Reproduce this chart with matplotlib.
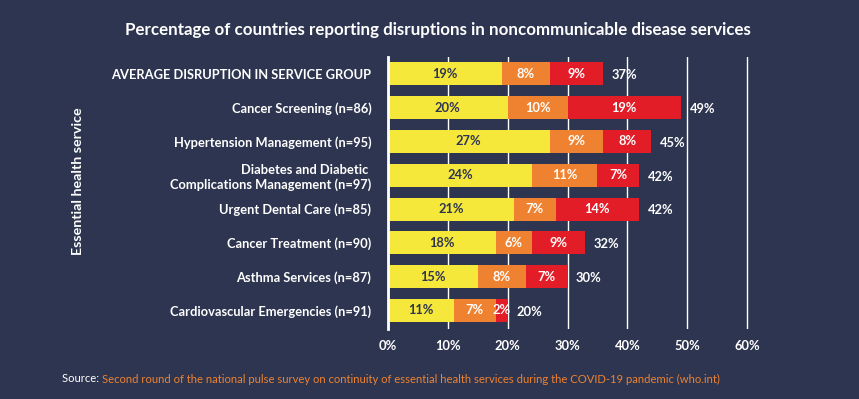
import matplotlib
matplotlib.use("Agg")
import matplotlib.pyplot as plt
import numpy as np

categories = [
    "AVERAGE DISRUPTION IN SERVICE GROUP",
    "Cancer Screening (n=86)",
    "Hypertension Management (n=95)",
    "Diabetes and Diabetic \nComplications Management (n=97)",
    "Urgent Dental Care (n=85)",
    "Cancer Treatment (n=90)",
    "Asthma Services (n=87)",
    "Cardiovascular Emergencies (n=91)",
]
seg1 = [19, 20, 27, 24, 21, 18, 15, 11]
seg2 = [8, 10, 9, 11, 7, 6, 8, 7]
seg3 = [9, 19, 8, 7, 14, 9, 7, 2]
totals = [37, 49, 45, 42, 42, 32, 30, 20]
xticks = [0, 10, 20, 30, 40, 50, 60]

BG = "#2e3550"
YEL = "#f6e83a"
ORA = "#ef8230"
RED = "#e31d27"
WHITE = "#ffffff"
FONT = "Lato"

plt.rcParams['font.family'] = [FONT, 'DejaVu Sans']

W, H = 859, 399
fig = plt.figure(figsize=(W / 100, H / 100), dpi=100, facecolor=BG)
left, right, top, bottom = 388, 750, 57, 329
xmax = 60.5
ax = fig.add_axes([left / W, 1 - bottom / H, (right - left) / W, (bottom - top) / H])
ax.set_facecolor(BG)

y = np.arange(len(categories))
h = 0.68
s1 = np.array(seg1); s2 = np.array(seg2); s3 = np.array(seg3)
ax.barh(y, s1, height=h, color=YEL, zorder=3)
ax.barh(y, s2, left=s1, height=h, color=ORA, zorder=3)
ax.barh(y, s3, left=s1 + s2, height=h, color=RED, zorder=3)

fs = 9.3
for i in range(len(categories)):
    ax.text(s1[i] / 2, y[i], f"{seg1[i]}%", ha="center", va="center",
            color=BG, fontsize=fs, fontweight="bold", zorder=4)
    ax.text(s1[i] + s2[i] / 2, y[i], f"{seg2[i]}%", ha="center", va="center",
            color=WHITE, fontsize=fs, fontweight="bold", zorder=4)
    ax.text(s1[i] + s2[i] + s3[i] / 2, y[i], f"{seg3[i]}%", ha="center", va="center",
            color=WHITE, fontsize=fs, fontweight="bold", zorder=4)
    end = s1[i] + s2[i] + s3[i]
    ax.annotate(f"{totals[i]}%", xy=(end, y[i]), xytext=(6, -1), textcoords="offset points",
                ha="left", va="center", color=WHITE, fontsize=fs, fontweight="bold", zorder=4)

ax.set_xlim(0, xmax)
ax.set_ylim(len(categories) - 0.45, -0.5)
ax.set_xticks(xticks)
ax.set_xticklabels([f"{t}%" for t in xticks], color=WHITE, fontsize=fs, fontweight="bold")
ax.set_yticks(y)
ax.set_yticklabels(categories, color=WHITE, fontsize=fs, fontweight="bold", linespacing=1.25)
ax.tick_params(axis="both", length=0, pad=8)
ax.tick_params(axis="y", pad=12)
ax.grid(axis="x", color=WHITE, linewidth=1, zorder=1)
for sp in ["top", "right", "bottom"]:
    ax.spines[sp].set_visible(False)
ax.spines["left"].set_color(WHITE)
ax.spines["left"].set_linewidth(2)
ax.spines["left"].set_zorder(5)

fig.text(78 / W, 1 - 181 / H, "Essential health service", rotation=90, ha="center", va="center",
         color=WHITE, fontsize=10.3, fontweight="bold")
fig.text(438 / W, 1 - 30 / H,
         "Percentage of countries reporting disruptions in noncommunicable disease services",
         ha="center", va="center", color=WHITE, fontsize=12.2, fontweight="bold")

t1 = fig.text(62 / W, 1 - 379 / H, "Source: ", ha="left", va="center", color=WHITE, fontsize=8.1)
fig.canvas.draw()
bb = t1.get_window_extent()
fig.text(bb.x1 / W, 1 - 379 / H,
         "Second round of the national pulse survey on continuity of essential health services during the COVID-19 pandemic (who.int)",
         ha="left", va="center", color=ORA, fontsize=8.1)

fig.savefig("out.png", dpi=100, facecolor=BG)
